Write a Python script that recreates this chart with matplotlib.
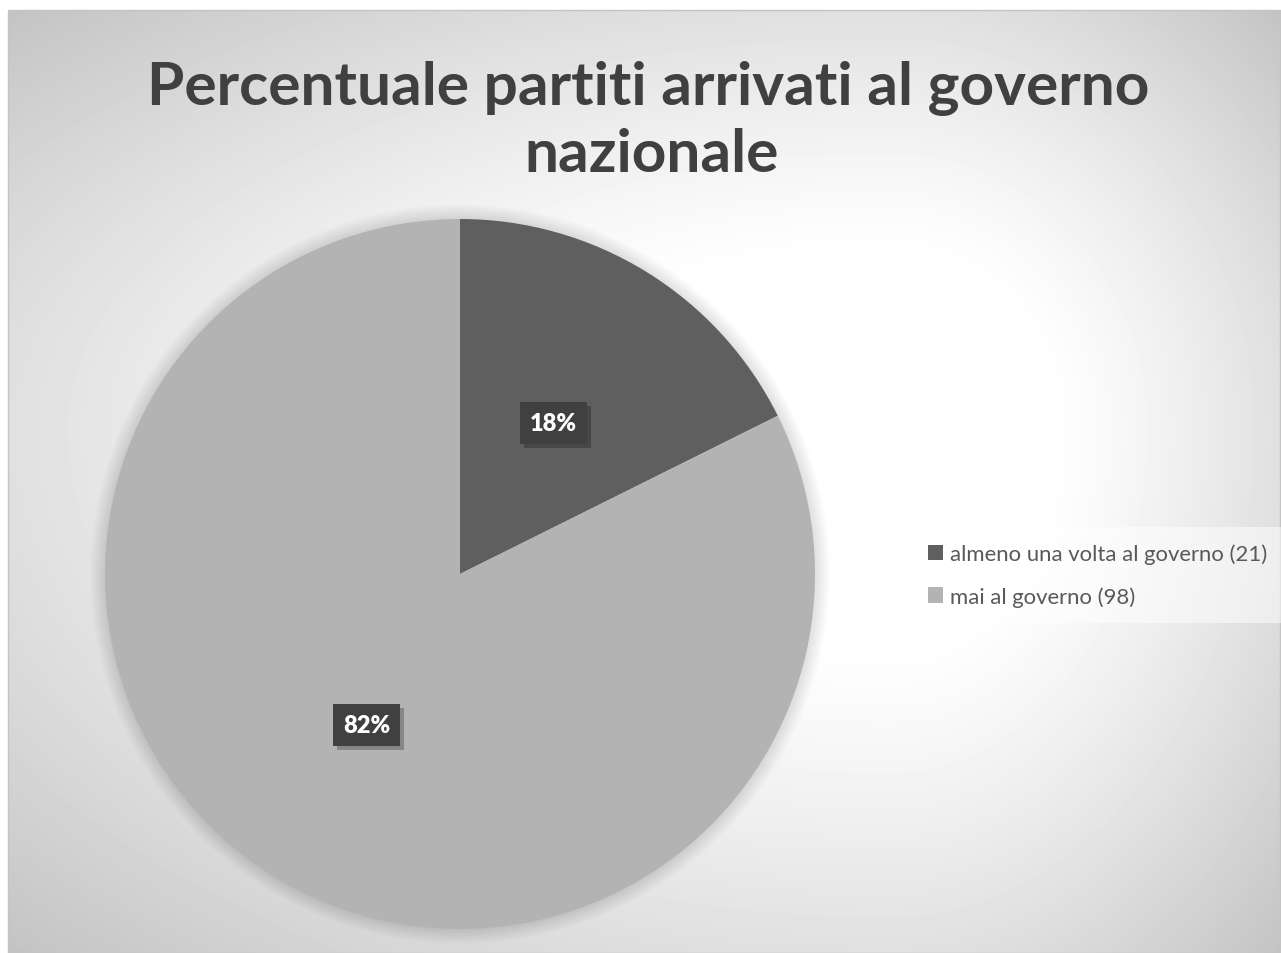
import matplotlib
matplotlib.use("Agg")
import matplotlib.pyplot as plt
import matplotlib.patheffects as pe
import numpy as np

# dati del grafico
labels = ["almeno una volta al governo (21)", "mai al governo (98)"]
counts = [21, 98]
slice_colors = ["#5f5f5f", "#b3b3b3"]
title_lines = ["Percentuale partiti arrivati al governo", "nazionale"]

W, H = 1281, 954
plt.rcParams['font.family'] = ['Lato', 'DejaVu Sans']

fig = plt.figure(figsize=(W / 100, H / 100), dpi=100)
fig.patch.set_facecolor("white")
ax = fig.add_axes([0, 0, 1, 1])


# sfondo con gradiente radiale (bianco vicino al centro, grigio ai bordi)
left, right, top, bottom = 8, W, 11, H
cx, cy = 890, 430
xs = np.arange(left, right) + 0.5
ys = np.arange(top, bottom) + 0.5
X, Y = np.meshgrid(xs, ys)
dx = np.where(X < cx, (X - cx) / (cx - left), (X - cx) / (right - cx))
dy = np.where(Y < cy, (Y - cy) / (cy - top), (Y - cy) / (bottom - cy))
t = np.sqrt(dx ** 2 + dy ** 2) / np.sqrt(2)
t0 = 0.28
k = np.clip((t - t0) / (1 - t0), 0, 1) ** 1.25
grey = (255 - 60 * k) / 255.0
ax.imshow(grey, cmap="gray", vmin=0, vmax=1, extent=(left, right, H - bottom, H - top),
          origin="upper", interpolation="bilinear", zorder=0)

pie_cx, pie_cy, pie_r = 460, H - 575, 355

# alone morbido attorno alla torta
for i in range(1, 16):
    ax.add_patch(plt.Circle((pie_cx, pie_cy), pie_r + i, color="black",
                            alpha=0.007, lw=0, zorder=1))

wedges, texts, autotexts = ax.pie(
    counts, colors=slice_colors, startangle=90, counterclock=False,
    center=(pie_cx, pie_cy), radius=pie_r,
    autopct=lambda p: "{:.0f}%".format(p), pctdistance=0.5,
    wedgeprops=dict(linewidth=0, zorder=2),
    textprops=dict(color="white", fontsize=17, fontweight="heavy"))

for at in autotexts:
    at.set_zorder(5)
    at.set_bbox(dict(boxstyle="square,pad=0.42", facecolor="#404040",
                     edgecolor="none", linewidth=0))
    at.get_bbox_patch().set_path_effects([
        pe.SimplePatchShadow(offset=(3, -3), shadow_rgbFace="black", alpha=0.25),
        pe.Normal()])

ax.set_xlim(0, W)
ax.set_ylim(0, H)
ax.set_aspect("equal")
ax.axis("off")

# bordo dell'area del grafico
ax.add_patch(plt.Rectangle((left, 0), right - left - 1, H - top, fill=False,
                           edgecolor="#c4c4c4", linewidth=1, zorder=6))

# titolo
ax.text(648, H - 88, title_lines[0], ha="center", va="center", fontsize=43.5,
        fontweight="bold", color="#404040", zorder=6)
ax.text(652, H - 155, title_lines[1], ha="center", va="center", fontsize=43.5,
        fontweight="bold", color="#404040", zorder=6)

leg = ax.legend(wedges, labels, loc="center left",
                bbox_to_anchor=(911 / W, (H - 576) / H), borderaxespad=0,
                frameon=True, fancybox=False, framealpha=0.5, facecolor="white",
                edgecolor="none", fontsize=15.9, labelcolor="#595959",
                handlelength=0.7, handleheight=0.7, handletextpad=0.3,
                labelspacing=1.0, borderpad=0.75)
leg.set_zorder(6)

fig.savefig("out.png", dpi=100)
